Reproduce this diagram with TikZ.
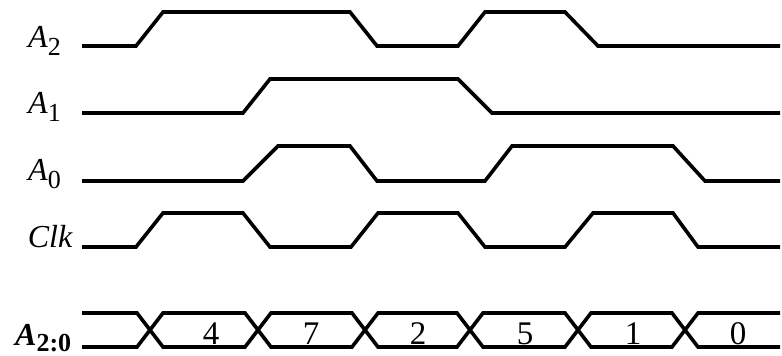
\documentclass[tikz,border=0pt]{standalone}
\usepackage{fontspec}
\setmainfont{Liberation Serif}
\usetikzlibrary{positioning}

\newcommand{\sigsub}[3][8pt]{#2\raisebox{-#1}{\fontsize{26}{26}\selectfont #3}}

\begin{document}
\begin{tikzpicture}[x=1pt, y=-1pt,
		wave/.style={line width=3.6pt},
		siglabel/.style={anchor=base west, inner sep=0pt, font=\fontsize{32}{34}\selectfont},
		buslabel/.style={anchor=base, inner sep=0pt, font=\fontsize{33}{34}\selectfont}]
			\useasboundingbox (0,0) rectangle (782,356);
			% Labels
			\node[siglabel] (a2) at (28,47) {\sigsub{\textit{A}}{2}};
			\node[siglabel] (a1) at (28,113) {\sigsub{\textit{A}}{1}};
			\node[siglabel] (a0) at (28,180) {\sigsub{\textit{A}}{0}};
			\node[siglabel, anchor=base east] (clk) at (73,247) {\textit{Clk}};
			\node[siglabel] (bus) at (15,345) {\bfseries\sigsub[6pt]{\textit{A}}{2:0}};
			% Waves
			\draw[wave] (82,46) -- (136,46) -- (163,12) -- (350,12) -- (377,46) -- (458,46) -- (485,12) -- (565,12) -- (598,46) -- (780,46);
			\draw[wave] (82,113) -- (243,113) -- (270,79) -- (458,79) -- (492,113) -- (780,113);
			\draw[wave] (82,181) -- (243,181) -- (278,146) -- (350,146) -- (377,181) -- (485,181) -- (512,146) -- (673,146) -- (705,181) -- (780,181);
			\draw[wave] (82,247) -- (136,247) -- (163,213) -- (243,213) -- (270,247) -- (351,247) -- (378,213) -- (458,213) -- (485,247) -- (565,247) -- (593,213) -- (673,213) -- (698,247) -- (780,247);
			% Bus
			\draw[wave] (82,313) -- (137,313) -- (163,347) -- (245,347) -- (271,313) -- (352,313) -- (378,347) -- (457,347) -- (483,313) -- (565,313) -- (591,347) -- (672,347) -- (698,313) -- (780,313);
			\draw[wave] (82,347) -- (137,347) -- (163,313) -- (245,313) -- (271,347) -- (352,347) -- (378,313) -- (457,313) -- (483,347) -- (565,347) -- (591,313) -- (672,313) -- (698,347) -- (780,347);
			\foreach \v/\x in {4/211, 7/311, 2/418, 5/525, 1/633, 0/738}
				\node[buslabel] (v\v) at (\x,344) {\v};
		\end{tikzpicture}
\end{document}
